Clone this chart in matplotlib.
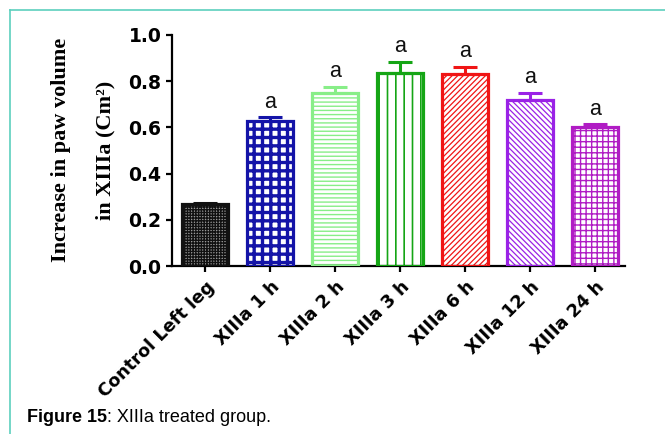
import matplotlib
matplotlib.use('Agg')
import matplotlib.pyplot as plt
from matplotlib.lines import Line2D

groups = ['Control Left leg', 'XIIIa 1 h', 'XIIIa 2 h', 'XIIIa 3 h',
          'XIIIa 6 h', 'XIIIa 12 h', 'XIIIa 24 h']
means = [0.267, 0.626, 0.751, 0.837, 0.832, 0.717, 0.602]
sem = [0.005, 0.019, 0.026, 0.048, 0.031, 0.034, 0.014]
marks = ['', 'a', 'a', 'a', 'a', 'a', 'a']

colors = ['#111111', '#1414a8', '#88ee88', '#15a515', '#f01515', '#9a22e6', '#b01cc4']
faces = ['#9a9a9a', 'white', 'white', 'white', 'white', 'white', 'white']
hatches = ['++++++', '++', '----', '||', '//////', '\\\\\\\\\\\\', '+++']
hatch_lw = [1.0, 2.4, 1.0, 1.2, 0.9, 0.9, 1.0]

fig = plt.figure(figsize=(6.65, 4.34), dpi=100)
fig.patch.set_facecolor('white')

# frame lines around the figure panel
fig.add_artist(Line2D([10 / 665, 1.0], [1 - 10 / 434, 1 - 10 / 434],
                      transform=fig.transFigure, color='#5ccfbd', lw=1.2))
fig.add_artist(Line2D([10 / 665, 10 / 665], [0.0, 1 - 10 / 434],
                      transform=fig.transFigure, color='#5ccfbd', lw=1.2))

ax = fig.add_axes([172 / 665, 1 - 266 / 434, (625 - 172) / 665, (266 - 35) / 434])

x = list(range(len(groups)))
for i in x:
    # hatched fill first, then a thick outline on top
    plt.rcParams['hatch.linewidth'] = hatch_lw[i]
    ax.bar(i, means[i], width=0.7, color=faces[i], edgecolor=colors[i],
           hatch=hatches[i], linewidth=0, zorder=2)
    ax.bar(i, means[i], width=0.7, color='none', edgecolor=colors[i],
           linewidth=2.3, zorder=3)
    ax.errorbar(i, means[i], yerr=[[0], [sem[i]]], fmt='none', ecolor=colors[i],
                elinewidth=2.2, capsize=8.5, capthick=2.2, zorder=4)
    if marks[i]:
        ax.annotate(marks[i], (i, means[i] + sem[i]), xytext=(0, 3),
                    textcoords='offset points', ha='center', va='bottom',
                    fontsize=15.5, family='Liberation Sans', color='#111111')

ax.set_xlim(-0.51, 6.46)
ax.set_ylim(0, 1.0)
ax.set_yticks([0.0, 0.2, 0.4, 0.6, 0.8, 1.0])
ax.set_yticklabels(['0.0', '0.2', '0.4', '0.6', '0.8', '1.0'],
                   fontsize=13.5, fontweight='bold', family='DejaVu Sans')
ax.set_xticks(x)
ax.set_xticklabels(groups, rotation=45, ha='right', rotation_mode='anchor',
                   fontsize=12.8, fontweight='bold', family='DejaVu Sans')

for side in ['top', 'right']:
    ax.spines[side].set_visible(False)
for side in ['left', 'bottom']:
    ax.spines[side].set_linewidth(1.6)
ax.tick_params(axis='both', direction='out', length=4.5, width=1.6, colors='black')
ax.tick_params(axis='x', pad=4)
ax.tick_params(axis='y', pad=3)

fig.text(61 / 665, 1 - 150 / 434, 'Increase in paw volume', rotation=90,
         ha='center', va='center', fontsize=16, fontweight='bold',
         family='Liberation Serif')
fig.text(105 / 665, 1 - 150 / 434, 'in XIIIa (Cm²)', rotation=90,
         ha='center', va='center', fontsize=16, fontweight='bold',
         family='Liberation Serif')

# caption: bold figure number followed by plain text
cap = fig.text(27 / 665, 1 - 426 / 434, 'Figure 15', fontsize=13, fontweight='bold',
               family='Liberation Sans', ha='left', va='bottom')
ax.annotate(': XIIIa treated group.', xy=(1, 0), xycoords=cap, fontsize=13,
            family='Liberation Sans', ha='left', va='bottom', annotation_clip=False)

fig.savefig('out.png', dpi=100, facecolor='white')
